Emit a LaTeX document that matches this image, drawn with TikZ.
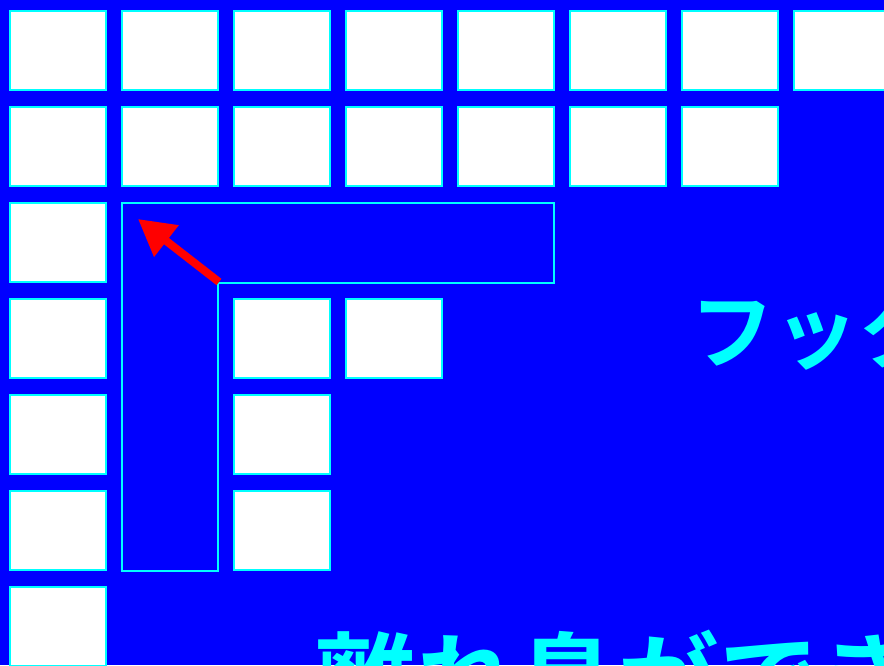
\documentclass[tikz,border=0pt]{standalone}
\usepackage{fontspec}
\newfontfamily\jpfont{Noto Sans CJK JP}[BoldFont={Noto Sans CJK JP Bold}]
\usetikzlibrary{arrows.meta}
\definecolor{bgblue}{HTML}{0000FF}
\definecolor{cy}{HTML}{00FFFF}
\definecolor{rd}{HTML}{FF0000}
\begin{document}
\begin{tikzpicture}[x=1pt,y=-1pt,
  cell/.style={rectangle,draw=cy,line width=2pt,fill=white,minimum width=96pt,minimum height=79pt,inner sep=0pt},
  outline/.style={draw=cy,line width=1.5pt,line join=miter},
  bigarrow/.style={draw=rd,line width=8pt,-{Triangle[length=36pt,width=38pt]}},
  label/.style={text=cy,inner sep=0pt,anchor=base west}]
\useasboundingbox (0,0) rectangle (884,665);
\clip (0,0) rectangle (884,665);
\fill[bgblue] (0,0) rectangle (884,665);
% row 0
\foreach \c in {0,...,7} { \node[cell] (r0c\c) at ({58+112*\c},50.5) {}; }
% row 1
\foreach \c in {0,...,6} { \node[cell] (r1c\c) at ({58+112*\c},146.5) {}; }
% column 0
\foreach \r in {2,...,6} { \node[cell] (r\r c0) at (58,{50.5+96*\r}) {}; }
% others
\node[cell] (r3c2) at (282,338.5) {};
\node[cell] (r3c3) at (394,338.5) {};
\node[cell] (r4c2) at (282,434.5) {};
\node[cell] (r5c2) at (282,530.5) {};
% L outline
\draw[outline] (122,203) -- (554,203) -- (554,283) -- (218,283) -- (218,571) -- (122,571) -- cycle;
% arrow
\coordinate (astart) at (219,282);
\coordinate (aend) at (138,219);
\draw[bigarrow] (astart) -- (aend);
% texts
\node[label,font=\jpfont\bfseries\fontsize{84pt}{84pt}\selectfont] (hook) at (690,362) {フック};
\node[label,font=\jpfont\bfseries\fontsize{101pt}{101pt}\selectfont] (island) at (315,717) {離れ島ができる};
\end{tikzpicture}
\end{document}
